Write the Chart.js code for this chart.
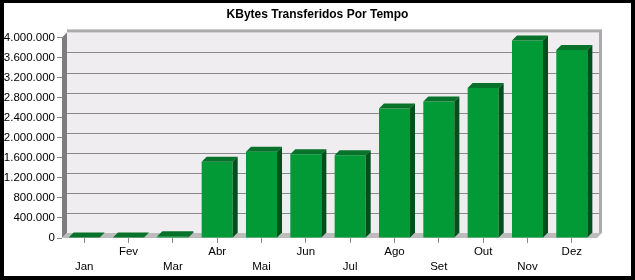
<!DOCTYPE html>
<html>
<head>
<meta charset="utf-8">
<script src="https://cdn.jsdelivr.net/npm/chart.js@4/dist/chart.umd.min.js"></script>
<style>
  html, body { margin: 0; padding: 0; background: #000; }
  body { width: 635px; height: 280px; position: relative; overflow: hidden; }
  #box { position: absolute; left: 4px; top: 3px; width: 627px; height: 273px; background: #fff; }
</style>
</head>
<body>
<div id="box"><canvas id="kbChart" width="627" height="273"></canvas></div>
<script>
const months = ['Jan', 'Fev', 'Mar', 'Abr', 'Mai', 'Jun', 'Jul', 'Ago', 'Set', 'Out', 'Nov', 'Dez'];
const kbytes = [8000, 12000, 35000, 1520000, 1720000, 1670000, 1650000, 2580000, 2720000, 2990000, 3940000, 3750000];
const yTicks = [0, 400000, 800000, 1200000, 1600000, 2000000, 2400000, 2800000, 3200000, 3600000, 4000000];

const DEPTH = 5;

// alternate the labels between two rows
const xLabels = months.map((m, i) => i % 2 === 0 ? ['', m] : [m, '']);

function fmt(v) {
    return String(v).replace(/\B(?=(\d{3})+(?!\d))/g, '.');
}

/* ================= 3D WALLS + BARS ================= */
const box3d = {
    id: 'box3d',
    beforeDatasetsDraw(chart) {
        const { ctx, chartArea: a, scales: { y } } = chart;
        const d = DEPTH;
        ctx.save();
        // back wall frame + fill
        ctx.fillStyle = '#ababab';
        ctx.fillRect(a.left + d, a.top - d - 3, a.right - a.left + 3, a.bottom - a.top + 3);
        ctx.fillStyle = '#f0edf1';
        ctx.fillRect(a.left + d, a.top - d, a.right - a.left, a.bottom - a.top);
        // grid lines on the back wall
        ctx.strokeStyle = '#8a8a8a';
        ctx.lineWidth = 1;
        yTicks.forEach(v => {
            if (v === 0 || v === yTicks[yTicks.length - 1]) return;
            const py = Math.round(y.getPixelForValue(v) - d) + 0.5;
            ctx.beginPath();
            ctx.moveTo(a.left + d, py);
            ctx.lineTo(a.right + d, py);
            ctx.stroke();
        });
        // left wall
        ctx.fillStyle = '#7d7d7d';
        ctx.beginPath();
        ctx.moveTo(a.left, a.top);
        ctx.lineTo(a.left + d, a.top - d);
        ctx.lineTo(a.left + d, a.bottom - d);
        ctx.lineTo(a.left, a.bottom);
        ctx.closePath();
        ctx.fill();
        // floor
        ctx.fillStyle = '#bcbcbc';
        ctx.beginPath();
        ctx.moveTo(a.left, a.bottom);
        ctx.lineTo(a.left + d, a.bottom - d);
        ctx.lineTo(a.right + d + 3, a.bottom - d);
        ctx.lineTo(a.right + 3, a.bottom);
        ctx.closePath();
        ctx.fill();
        ctx.restore();
    },
    afterDatasetsDraw(chart) {
        const { ctx } = chart;
        const d = DEPTH;
        ctx.save();
        chart.getDatasetMeta(0).data.forEach(bar => {
            const l = bar.x - bar.width / 2;
            const r = bar.x + bar.width / 2;
            // top face
            ctx.fillStyle = '#06722a';
            ctx.beginPath();
            ctx.moveTo(l, bar.y);
            ctx.lineTo(l + d, bar.y - d);
            ctx.lineTo(r + d, bar.y - d);
            ctx.lineTo(r, bar.y);
            ctx.closePath();
            ctx.fill();
            // side face
            ctx.fillStyle = '#00501b';
            ctx.beginPath();
            ctx.moveTo(r, bar.y);
            ctx.lineTo(r + d, bar.y - d);
            ctx.lineTo(r + d, bar.base - d);
            ctx.lineTo(r, bar.base);
            ctx.closePath();
            ctx.fill();
        });
        ctx.restore();
    }
};

new Chart(document.getElementById('kbChart'), {
    type: 'bar',
    data: {
        labels: xLabels,
        datasets: [{
            data: kbytes,
            backgroundColor: '#019a36',
            borderWidth: 0,
            categoryPercentage: 1,
            barPercentage: 0.7
        }]
    },
    options: {
        responsive: false,
        animation: false,
        devicePixelRatio: 1,
        layout: { padding: 0 },
        plugins: {
            legend: { display: false },
            tooltip: { enabled: false },
            title: {
                display: true,
                text: 'KBytes Transferidos Por Tempo',
                color: '#000',
                font: { family: 'Liberation Sans, Arial, sans-serif', size: 12, weight: 'bold' },
                padding: { top: 4, bottom: 16 }
            }
        },
        scales: {
            x: {
                border: { display: false },
                grid: { display: true, drawOnChartArea: false, drawTicks: true, tickLength: 5, offset: false, color: '#8a8a8a' },
                ticks: {
                    color: '#000',
                    padding: 1,
                    maxRotation: 0,
                    autoSkip: false,
                    font: { family: 'Liberation Sans, Arial, sans-serif', size: 11.5, lineHeight: 1.3 }
                },
                afterFit(scale) { scale.height = 38; }
            },
            y: {
                min: 0,
                max: 4000000,
                border: { display: false },
                grid: { display: true, drawOnChartArea: false, drawTicks: true, tickLength: 5, color: '#8a8a8a' },
                afterBuildTicks(scale) { scale.ticks = yTicks.map(v => ({ value: v })); },
                ticks: {
                    color: '#000',
                    padding: 2,
                    callback: v => fmt(v),
                    font: { family: 'Liberation Sans, Arial, sans-serif', size: 11.5 }
                },
                afterFit(scale) { scale.width = 58; }
            },
            // empty right axis, only reserves the space right of the plot
            yRight: {
                position: 'right',
                min: 0,
                max: 4000000,
                border: { display: false },
                grid: { display: false },
                ticks: { display: false },
                afterFit(scale) { scale.width = 37; }
            }
        }
    },
    plugins: [box3d]
});
</script>
</body>
</html>
